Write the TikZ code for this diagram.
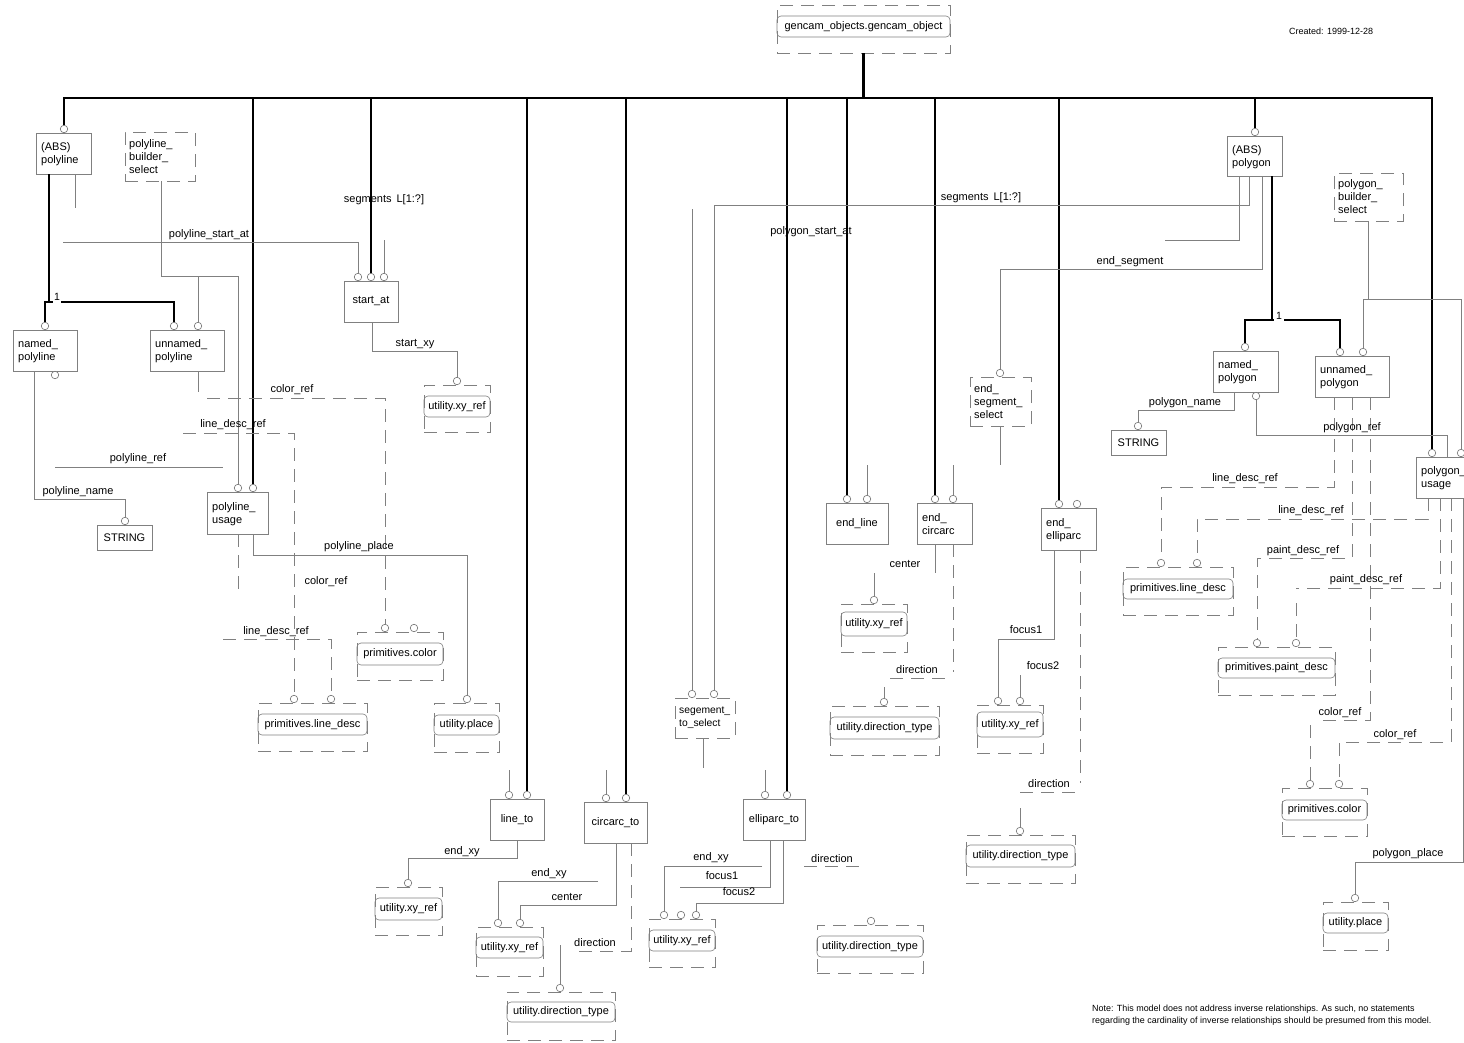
\documentclass[tikz,border=0pt]{standalone}
\usepackage{fontspec}
\setmainfont{Liberation Sans}
\newcommand\entbx[6]{\node[entbox, minimum width={#4-#2}, minimum height={#5-#3}] (#1) at ({(#2+#4)/2},{(#3+#5)/2}) {};
\node[lbl, anchor=west, align=left] (#1-t) at ({#2+5},{(#3+#5)/2+1}) {#6};}
\newcommand\entbxc[6]{\node[entbox, lbl, minimum width={#4-#2}, minimum height={#5-#3}] (#1) at ({(#2+#4)/2},{(#3+#5)/2}) {#6};}
\newcommand\selbx[7][11]{\node[selbox, minimum width={#5-#3}, minimum height={#6-#4}] (#2) at ({(#3+#5)/2},{(#4+#6)/2}) {};
\node[lbl, anchor=west, align=left, font=\fontsize{#1}{13}\selectfont] (#2-t) at ({#3+4},{(#4+#6)/2}) {#7};}
\newcommand\typbx[8]{\node[selbox, minimum width={#4-#2}, minimum height={#5-#3}] (#1) at ({(#2+#4)/2},{(#3+#5)/2}) {};
\node[tinner, minimum width={#4-#2}, minimum height={#7-#6}] (#1-i) at ({(#2+#4)/2},{(#6+#7)/2}) {#8};}
\newcommand\circat[3]{\node[circ] (#1) at (#2,#3) {};}
\begin{document}
\begin{tikzpicture}[x=1pt, y=-1pt,
 lc/.style={draw=black!50, line width=0.6pt},
 thk/.style={draw=black, line width=2.2pt},
 dsh/.style={lc, dash pattern=on 13pt off 8pt},
 lbl/.style={font=\fontsize{11}{13}\selectfont, inner sep=0pt, text=black},
 small/.style={font=\fontsize{8.95}{12}\selectfont, inner sep=0pt, text=black},
 entbox/.style={lc, rectangle, inner sep=0pt},
 selbox/.style={dsh, rectangle, inner sep=0pt},
 tinner/.style={lc, rectangle, rounded corners=4pt, inner sep=0pt, font=\fontsize{11}{13}\selectfont},
 circ/.style={circle, draw=black!55, line width=0.6pt, fill=white, inner sep=0pt, minimum size=7.5pt},
 lab/.style={lbl, anchor=mid, yshift=-2pt}]
\fill[white] (0,0) rectangle (1464,1042);
\useasboundingbox (0,0) rectangle (1464,1042);

% ---------- entity boxes
\entbx{absPL}{36}{133}{91}{174}{(ABS)\\polyline}
\entbx{namedPL}{13}{330}{77}{371}{named\_\\polyline}
\entbx{unnamedPL}{150}{330}{224}{371}{unnamed\_\\polyline}
\entbxc{startAt}{344}{281}{398}{322}{start\_at}
\entbx{plUsage}{207}{492}{268}{534}{polyline\_\\usage}
\entbxc{strL}{97}{525}{152}{550}{STRING}
\entbxc{lineTo}{490}{799}{544}{840}{line\_to}
\entbxc{circTo}{584}{802}{647}{843}{circarc\_to}
\entbxc{ellTo}{743}{799}{805}{840}{elliparc\_to}
\entbxc{endLine}{826}{503}{888}{544}{end\_line}
\entbx{endCirc}{917}{503}{972}{544}{end\_\\circarc}
\entbx{endEll}{1041}{508}{1096}{550}{end\_\\elliparc}
\entbx{absPG}{1227}{136}{1282}{176}{(ABS)\\polygon}
\entbx{namedPG}{1213}{351}{1278}{392}{named\_\\polygon}
\entbx{unnamedPG}{1315}{356}{1389}{397}{unnamed\_\\polygon}
\entbx{pgUsage}{1416}{457}{1472}{498}{polygon\_\\usage}
\entbxc{strR}{1111}{430}{1166}{455}{STRING}

% ---------- select boxes
\selbx{plBuild}{125}{132}{195}{181}{polyline\_\\builder\_\\select}
\selbx{pgBuild}{1334}{173}{1403}{221}{polygon\_\\builder\_\\select}
\selbx{endSegSel}{970}{377}{1031}{426}{end\_\\segment\_\\select}
\selbx[10.3]{segToSel}{675}{698}{735}{738}{segement\_\\to\_select}

% ---------- type boxes
\typbx{gco}{777}{5}{950}{53}{16}{37}{gencam\_objects.gencam\_object}
\typbx{xyA}{424}{385}{490}{432}{396}{417}{utility.xy\_ref}
\typbx{colL}{357}{632}{443}{680}{643}{665}{primitives.color}
\typbx{ldL}{258}{703}{367}{751}{714}{735}{primitives.line\_desc}
\typbx{plcL}{434}{703}{499}{752}{715}{735}{utility.place}
\typbx{xyLT}{375}{887}{442}{935}{898}{920}{utility.xy\_ref}
\typbx{xyMid}{476}{927}{543}{976}{937}{958}{utility.xy\_ref}
\typbx{dirB}{507}{992}{615}{1040}{1002}{1022}{utility.direction\_type}
\typbx{xyEll}{649}{919}{715}{967}{930}{951}{utility.xy\_ref}
\typbx{dirRB}{817}{925}{923}{973}{936}{957}{utility.direction\_type}
\typbx{dirEC}{830}{706}{939}{755}{717}{739}{utility.direction\_type}
\typbx{xyEC}{841}{604}{907}{652}{612}{636}{utility.xy\_ref}
\typbx{xyEE}{977}{705}{1043}{753}{712}{737}{utility.xy\_ref}
\typbx{dirEE}{966}{835}{1075}{883}{845}{867}{utility.direction\_type}
\typbx{ldR}{1123}{567}{1233}{615}{579}{599}{primitives.line\_desc}
\typbx{pdR}{1218}{647}{1335}{695}{658}{678}{primitives.paint\_desc}
\typbx{colR}{1282}{788}{1367}{836}{800}{820}{primitives.color}
\typbx{plcR}{1323}{902}{1388}{950}{913}{933}{utility.place}

% ---------- circles
\circat{c1}{64}{129}
\circat{c2a}{238}{488}\circat{c2b}{253}{488}
\circat{c3a}{358}{277}\circat{c3b}{371}{277}\circat{c3c}{384}{277}
\circat{c4}{45}{326}\circat{c5a}{174}{326}\circat{c5b}{198}{326}
\circat{c6}{55}{375}
\circat{c7}{125}{521}
\circat{c8}{457}{381}
\circat{c9a}{385}{628}\circat{c9b}{414}{628}
\circat{c10a}{294}{699}\circat{c10b}{331}{699}
\circat{c11}{467}{699}
\circat{c12a}{509}{795}\circat{c12b}{527}{795}
\circat{c13a}{606}{798}\circat{c13b}{626}{798}
\circat{c14a}{765}{795}\circat{c14b}{787}{795}
\circat{c15}{408}{883}
\circat{c16a}{498}{923}\circat{c16b}{520}{923}
\circat{c17}{560}{988}
\circat{c18a}{664}{915}\circat{c18b}{681}{915}\circat{c18c}{696}{915}
\circat{c19}{871}{921}
\circat{c20a}{692}{694}\circat{c20b}{714}{694}
\circat{c21a}{847}{499}\circat{c21b}{867}{499}
\circat{c22a}{935}{499}\circat{c22b}{953}{499}
\circat{c23a}{1059}{504}\circat{c23b}{1077}{504}
\circat{c24}{874}{600}
\circat{c25}{884}{702}
\circat{c26a}{998}{701}\circat{c26b}{1020}{701}
\circat{c27}{1020}{831}
\circat{c28}{1000}{373}
\circat{c29}{1255}{132}
\circat{c30}{1245}{347}\circat{c31a}{1340}{352}\circat{c31b}{1363}{352}
\circat{c32}{1256}{396}
\circat{c33}{1138}{426}
\circat{c34a}{1432}{453}\circat{c34b}{1461}{453}
\circat{c35a}{1161}{563}\circat{c35b}{1197}{563}
\circat{c36a}{1257}{643}\circat{c36b}{1296}{643}
\circat{c37a}{1310}{784}\circat{c37b}{1339}{784}
\circat{c38}{1355}{898}

% ---------- thick (supertype) lines
\draw[thk] (gco.south) -- (863.5,98);
\draw[thk, line join=miter] (c1) -- (64,98) -- (1432,98) -- (c34a);
\draw[thk] (253,98) -- (c2b);
\draw[thk] (371,98) -- (c3b);
\draw[thk] (527,98) -- (c12b);
\draw[thk] (626,98) -- (c13b);
\draw[thk] (787,98) -- (c14b);
\draw[thk] (847,98) -- (c21a);
\draw[thk] (935,98) -- (c22a);
\draw[thk] (1059,98) -- (c23a);
\draw[thk] (1255,98) -- (c29);
\draw[thk] (49,174) -- (49,302);
\draw[thk] (c4) |- (53,302);
\draw[thk] (61,302) -| (c5a);
\node[lbl, font=\fontsize{10.5}{12}\selectfont] (one1) at (57,297) {1};
\draw[thk] (1272,176) -- (1272,320);
\draw[thk] (c30) |- (1274,320);
\draw[thk] (1284,320) -| (c31a);
\node[lbl, font=\fontsize{10.5}{12}\selectfont] (one2) at (1279,316) {1};

% ---------- thin and dashed connectors, left
\draw[lc] (75,174) -- (75,208);
\draw[lc] (161,181) |- (238,276) -- (c2a);
\draw[lc] (198,276) -- (c5b);
\draw[lc] (63,242) -| (c3a);
\draw[lc] (384,240) -- (c3c);
\draw[lc] (372,322) |- (457,351) -- (c8);
\draw[lc] (198,371) -- (198,392);
\draw[dsh] (207,398) -| (c9a);
\draw[dsh] (183,433) -| (c10a);
\draw[lc] (55,467) -- (223,467);
\draw[lc] (34,371) |- (125,499) -- (c7);
\draw[dsh] (238,534) -- (238,590);
\draw[lc] (253,534) |- (467,555) -- (c11);
\draw[dsh] (223,639) -| (c10b);

% ---------- middle
\draw[lc] (509,770) -- (c12a);
\draw[lc] (517,840) |- (408,858) -- (c15);
\draw[lc] (606,770) -- (c13a);
\draw[lc] (598,881) -| (c16a);
\draw[lc] (616,843) |- (520,905) -- (c16b);
\draw[dsh] (631,843) |- (574,951);
\draw[lc] (560,945) -- (c17);
\draw[lc] (765,770) -- (c14a);
\draw[lc] (770,840) |- (680,887);
\draw[lc] (783,840) |- (696,903) -- (c18c);
\draw[lc] (762,866) -| (c18a);
\draw[dsh] (804,866) -- (860,866);
\draw[lc] (692,209) -- (c20a);
\draw[lc] (1249,176) |- (714,205) -- (c20b);
\draw[lc] (703,738) -- (703,768);
\draw[lc] (867,465) -- (c21b);
\draw[lc] (953,465) -- (c22b);
\draw[lc] (935,544) -- (935,573);
\draw[lc] (874,573) -- (c24);
\draw[dsh] (953,544) -- (953,672);
\draw[dsh] (890,678) -- (947,678);
\draw[lc] (884,687) -- (c25);
\draw[lc] (1054,550) |- (998,639) -- (c26a);
\draw[lc] (1020,675) -- (c26b);
\draw[dsh] (1080,550) -- (1080,783);
\draw[dsh] (1020,792) -- (1076,792);
\draw[lc] (1020,808) -- (c27);

% ---------- right
\draw[lc] (1239,176) |- (1165,240);
\draw[lc] (1262,176) |- (1000,269) -- (c28);
\draw[lc] (1000,426) -- (1000,465);
\draw[lc] (1368,221) -- (1368,299);
\draw[lc] (c31b) |- (1461,299) -- (c34b);
\draw[lc] (1234,392) |- (1138,410) -- (c33);
\draw[lc] (c32) |- (1447,435) -- (1447,457);
\draw[dsh] (1334,397) |- (1161,487) -- (c35a);
\draw[dsh] (1352,397) |- (1257,558) -- (c36a);
\draw[dsh] (1370,397) |- (1319,720);
\draw[dsh] (1310,725) -- (c37a);
\draw[dsh] (1428,498) |- (1197,519) -- (c35b);
\draw[dsh] (1440,498) |- (1296,588);
\draw[dsh] (1296,603) -- (c36b);
\draw[dsh] (1451,498) |- (1339,742) -- (c37b);
\draw[lc] (1463,498) |- (1355,862) -- (c38);

% ---------- labels
\node[lab] (L1) at (384,198) {segments\hspace{5pt}L[1:?]};
\node[lab] (L2) at (209,233) {polyline\_start\_at};
\node[lab] (L3) at (415,342) {start\_xy};
\node[lab] (L4) at (292,388) {color\_ref};
\node[lab] (L5) at (233,423) {line\_desc\_ref};
\node[lab] (L6) at (138,457) {polyline\_ref};
\node[lab] (L7) at (78,490) {polyline\_name};
\node[lab] (L8) at (359,545) {polyline\_place};
\node[lab] (L9) at (326,580) {color\_ref};
\node[lab] (L10) at (276,630) {line\_desc\_ref};
\node[lab] (L11) at (462,850) {end\_xy};
\node[lab] (L12) at (549,872) {end\_xy};
\node[lab] (L13) at (567,896) {center};
\node[lab] (L14) at (595,942) {direction};
\node[lab] (L15) at (711,856) {end\_xy};
\node[lab] (L16) at (722,875) {focus1};
\node[lab] (L17) at (739,891) {focus2};
\node[lab] (L18) at (832,858) {direction};
\node[lab] (L19) at (811,230) {polygon\_start\_at};
\node[lab] (L20) at (981,196) {segments\hspace{5pt}L[1:?]};
\node[lab] (L21) at (1130,260) {end\_segment};
\node[lab] (L22) at (905,563) {center};
\node[lab] (L23) at (917,669) {direction};
\node[lab] (L24) at (1026,629) {focus1};
\node[lab] (L25) at (1043,665) {focus2};
\node[lab] (L26) at (1049,783) {direction};
\node[lab] (L27) at (1185,401) {polygon\_name};
\node[lab] (L28) at (1352,426) {polygon\_ref};
\node[lab] (L29) at (1245,477) {line\_desc\_ref};
\node[lab] (L30) at (1311,509) {line\_desc\_ref};
\node[lab] (L31) at (1303,549) {paint\_desc\_ref};
\node[lab] (L32) at (1366,578) {paint\_desc\_ref};
\node[lab] (L33) at (1340,711) {color\_ref};
\node[lab] (L34) at (1395,733) {color\_ref};
\node[lab] (L35) at (1408,852) {polygon\_place};

\node[small, anchor=mid west, font=\fontsize{9}{11}\selectfont] (created) at (1289,32) {Created: 1999-12-28};
\node[small, anchor=north west, align=left] (note) at (1092,1005) {Note: This model does not address inverse relationships. As such, no statements\\regarding the cardinality of inverse relationships should be presumed from this model.};
\end{tikzpicture}
\end{document}
